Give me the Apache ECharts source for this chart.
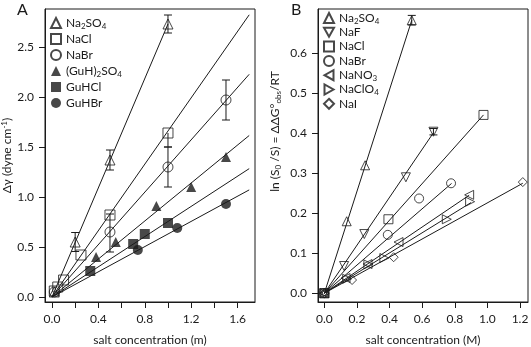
<!DOCTYPE html>
<html>
<head>
<meta charset="utf-8">
<script src="https://cdn.jsdelivr.net/npm/echarts@6.0.0/dist/echarts.min.js"></script>
<style>
  html, body { margin: 0; padding: 0; background: #fff; }
  #chart { width: 531px; height: 347px; }
</style>
</head>
<body>
<div id="chart"></div>
<script>
// ticks
var xTicksA = [0, 0.2, 0.4, 0.6, 0.8, 1.0, 1.2, 1.4, 1.6];
var xLabelsA = [0, 0.4, 0.8, 1.2, 1.6];
var yTicksA = [0, 0.5, 1.0, 1.5, 2.0, 2.5];
var xTicksB = [0, 0.2, 0.4, 0.6, 0.8, 1.0, 1.2];
var yTicksB = [0, 0.1, 0.2, 0.3, 0.4, 0.5, 0.6];

// panel A: surface tension increment
var namesA = ['Na2SO4', 'NaCl', 'NaBr', '(GuH)2SO4', 'GuHCl', 'GuHBr'];
var na2so4A = [[0.02, 0.05], [0.2, 0.55], [0.5, 1.37], [1.0, 2.73]];
var naclA = [[0.02, 0.06], [0.05, 0.1], [0.1, 0.17], [0.25, 0.42], [0.5, 0.82], [1.0, 1.64]];
var nabrA = [[0.02, 0.05], [0.5, 0.65], [1.0, 1.3], [1.5, 1.97]];
var guh2so4A = [[0.38, 0.4], [0.55, 0.55], [0.9, 0.91], [1.2, 1.1], [1.5, 1.4]];
var guhclA = [[0.33, 0.26], [0.7, 0.53], [0.8, 0.63], [1.0, 0.74]];
var guhbrA = [[0.74, 0.47], [1.08, 0.69], [1.5, 0.93]];
// x, y, error below, error above
var errA = [[0.2, 0.55, 0.095, 0.095], [0.5, 1.37, 0.1, 0.1], [1.0, 2.73, 0.09, 0.09],
            [1.0, 1.64, 0.14, 0], [0.5, 0.65, 0.2, 0.18], [1.0, 1.3, 0.2, 0.2], [1.5, 1.97, 0.2, 0.2]];
var slopesA = [2.73, 1.66, 1.31, 0.95, 0.755, 0.63];
var fitEndA = [1.0, 1.7, 1.7, 1.7, 1.7, 1.7];

// panel B: ln(S0/S)
var namesB = ['Na2SO4 ', 'NaF', 'NaCl ', 'NaBr ', 'NaNO3', 'NaClO4', 'NaI'];
var na2so4B = [[0, 0], [0.137, 0.18], [0.25, 0.32], [0.536, 0.683]];
var nafB = [[0, 0], [0.121, 0.068], [0.245, 0.148], [0.5, 0.29], [0.669, 0.404]];
var naclB = [[0, 0], [0.393, 0.185], [0.976, 0.446]];
var nabrB = [[0, 0], [0.389, 0.146], [0.581, 0.237], [0.777, 0.275]];
var nano3B = [[0, 0], [0.13, 0.038], [0.265, 0.073], [0.455, 0.128], [0.888, 0.246]];
var naclo4B = [[0, 0], [0.14, 0.036], [0.27, 0.072], [0.368, 0.088], [0.751, 0.185], [0.894, 0.229]];
var naiB = [[0, 0], [0.17, 0.033], [0.425, 0.09], [1.217, 0.278]];
var errB = [[0.536, 0.683, 0.012, 0.012], [0.669, 0.404, 0.008, 0.008]];
var slopesB = [1.274, 0.6, 0.457, 0.352, 0.276, 0.252, 0.226];
var fitEndB = [0.536, 0.669, 0.976, 0.78, 0.888, 0.9, 1.217];

var FONT = 'Lato';
var INK = '#1a1a1a';
var triDown = 'path://M0,0 L10,0 L5,9 Z';
var triLeft = 'path://M9,0 L9,10 L0,5 Z';
var triRight = 'path://M0,0 L0,10 L9,5 Z';

function scatter(name, data, symbol, filled, xi, yi, size) {
	return {
		name: name, type: 'scatter', data: data,
		xAxisIndex: xi, yAxisIndex: yi,
		symbol: symbol, symbolSize: size,
		itemStyle: filled ? { color: INK, borderWidth: 0 } :
			{ color: 'rgba(0,0,0,0)', borderColor: INK, borderWidth: 1 },
		z: 3
	};
}

function fit(slope, end, xi, yi, k) {
	return {
		name: 'fit' + k, type: 'line', xAxisIndex: xi, yAxisIndex: yi,
		data: [[0, 0], [end, slope * end]],
		symbol: 'none', silent: true,
		lineStyle: { color: INK, width: 1 }, z: 2
	};
}

function errBars(data, xi, yi) {
	return {
		type: 'custom', xAxisIndex: xi, yAxisIndex: yi, data: data, silent: true, z: 4,
		encode: { x: 0, y: 1 },
		renderItem: function (params, api) {
			var x = api.value(0), y = api.value(1), lo = api.value(2), hi = api.value(3);
			var t = api.coord([x, y + hi]), b = api.coord([x, y - lo]);
			var w = 4, st = { stroke: INK, lineWidth: 1 };
			var parts = [{ type: 'line', shape: { x1: t[0], y1: t[1], x2: b[0], y2: b[1] }, style: st }];
			if (hi > 0) parts.push({ type: 'line', shape: { x1: t[0] - w, y1: t[1], x2: t[0] + w, y2: t[1] }, style: st });
			if (lo > 0) parts.push({ type: 'line', shape: { x1: b[0] - w, y1: b[1], x2: b[0] + w, y2: b[1] }, style: st });
			return { type: 'group', children: parts };
		}
	};
}

function subFmt(name) {
	return name.trim().replace(/(\d)/g, '{s|$1}');
}

var richText = {
	s: { fontSize: 8, fontFamily: FONT, color: INK, padding: [6, 0, 0, 0], lineHeight: 14 }
};

function valueAxis(grid, min, max, ticks, labels, extra) {
	var ax = {
		type: 'value', gridIndex: grid, min: min, max: max,
		splitLine: { show: false },
		axisLine: { show: true, onZero: false, lineStyle: { color: INK, width: 1 } },
		axisTick: { show: true, length: 6, customValues: ticks, lineStyle: { color: INK } },
		axisLabel: { customValues: labels, color: INK, fontSize: 12, fontFamily: FONT, margin: 11,
			formatter: function (v) { return v.toFixed(1); } },
		nameTextStyle: { color: INK, fontSize: 12, fontFamily: FONT }
	};
	for (var k in extra) ax[k] = extra[k];
	return ax;
}

var series = [];
var dataA = [na2so4A, naclA, nabrA, guh2so4A, guhclA, guhbrA];
var symA = ['triangle', 'rect', 'circle', 'triangle', 'rect', 'circle'];
var fillA = [false, false, false, true, true, true];
for (var i = 0; i < namesA.length; i++) {
	series.push(fit(slopesA[i], fitEndA[i], 0, 0, 'A' + i));
	series.push(scatter(namesA[i], dataA[i], symA[i], fillA[i], 0, 0, 10));
}
series.push(errBars(errA, 0, 0));

var dataB = [na2so4B, nafB, naclB, nabrB, nano3B, naclo4B, naiB];
var symB = ['triangle', triDown, 'rect', 'circle', triLeft, triRight, 'diamond'];
for (var j = 0; j < namesB.length; j++) {
	series.push(fit(slopesB[j], fitEndB[j], 1, 1, 'B' + j));
	series.push(scatter(namesB[j], dataB[j], symB[j], false, 1, 1, 9));
}
series.push(errBars(errB, 1, 1));

var legendBase = {
	orient: 'vertical', itemWidth: 10, itemHeight: 10, padding: 0,
	selectedMode: false,
	textStyle: { color: INK, fontSize: 12, fontFamily: FONT, lineHeight: 14, rich: richText },
	formatter: subFmt
};

var option = {
	animation: false,
	backgroundColor: '#fff',
	grid: [
		{ left: 45, top: 9, width: 210, height: 293, outerBoundsMode: 'none', containLabel: false,
		  show: true, borderColor: INK, borderWidth: 1 },
		{ left: 318, top: 9, width: 210, height: 293, outerBoundsMode: 'none', containLabel: false,
		  show: true, borderColor: INK, borderWidth: 1 }
	],
	xAxis: [
		valueAxis(0, -0.06, 1.75, xTicksA, xLabelsA, {
			name: 'salt concentration (m)', nameLocation: 'middle', nameGap: 32
		}),
		valueAxis(1, -0.039, 1.249, xTicksB, xTicksB, {
			name: 'salt concentration (M)', nameLocation: 'middle', nameGap: 32
		})
	],
	yAxis: [
		valueAxis(0, -0.05, 2.88, yTicksA, yTicksA, {
			name: 'Δγ (dyne cm{p|-1})', nameLocation: 'middle', nameGap: 31,
			nameTextStyle: { color: INK, fontSize: 12, fontFamily: FONT,
				rich: { p: { fontSize: 8, fontFamily: FONT, color: INK, padding: [0, 0, 6, 0] } } }
		}),
		valueAxis(1, -0.022, 0.711, yTicksB, yTicksB, {
			name: 'ln (S{s|0} /S) = ΔΔG°{s|obs}/RT', nameLocation: 'middle', nameGap: 36,
			nameTextStyle: { color: INK, fontSize: 12, fontFamily: FONT, padding: [0, 0, 0, 48], rich: richText }
		})
	],
	legend: [
		Object.assign({}, legendBase, { data: namesA, left: 50, top: 16, itemGap: 2 }),
		Object.assign({}, legendBase, { data: namesB, left: 323, top: 11, itemGap: 0.3 })
	],
	graphic: [
		{ type: 'text', left: 17, top: 2, style: { text: 'A', fontSize: 16, fontFamily: FONT, fill: INK } },
		{ type: 'text', left: 291, top: 2, style: { text: 'B', fontSize: 16, fontFamily: FONT, fill: INK } }
	],
	series: series
};

var chart = echarts.init(document.getElementById('chart'), null, { renderer: 'canvas' });
chart.setOption(option);
</script>
</body>
</html>
